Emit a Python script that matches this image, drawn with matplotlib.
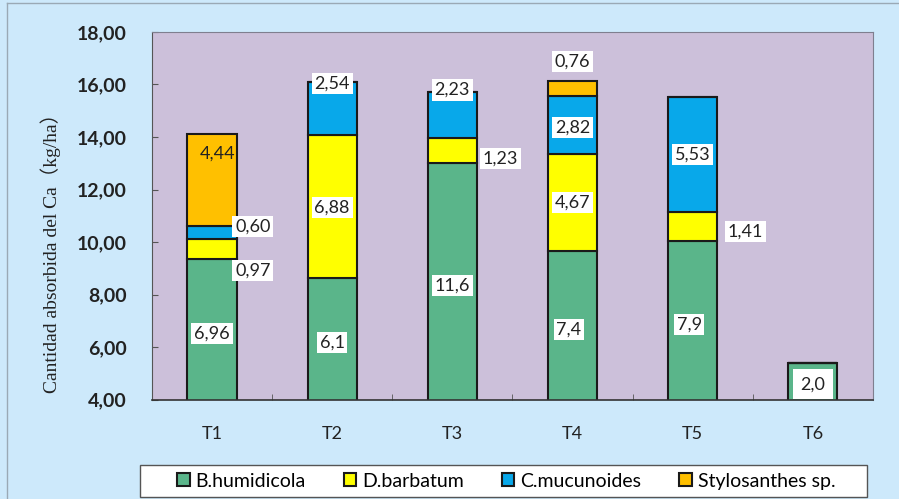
import numpy as np
import matplotlib.pyplot as plt
from matplotlib.patches import Rectangle

treatments = ['T1', 'T2', 'T3', 'T4', 'T5', 'T6']
species = ['B.humidicola', 'D.barbatum', 'C.mucunoides', 'Stylosanthes sp.']

# segment heights as drawn in the chart (the axis is cut at 4)
humidicola = [9.35, 8.65, 13.0, 9.65, 10.04, 5.38]
barbatum = [0.75, 5.43, 0.96, 3.70, 1.11, 0]
mucunoides = [0.50, 2.00, 1.77, 2.23, 4.39, 0]
stylosanthes = [3.50, 0, 0, 0.57, 0, 0]

# values printed on the bars
lab_humidicola = ['6,96', '6,1', '11,6', '7,4', '7,9', '2,0']
lab_barbatum = ['0,97', '6,88', '1,23', '4,67', '1,41', '']
lab_mucunoides = ['0,60', '2,54', '2,23', '2,82', '5,53', '']
lab_stylosanthes = ['4,44', '', '', '0,76', '', '']

series = [humidicola, barbatum, mucunoides, stylosanthes]
labels = [lab_humidicola, lab_barbatum, lab_mucunoides, lab_stylosanthes]
colors = ['#5ab58a', '#ffff00', '#08a8ea', '#ffc000']

# label nudges (dx in categories, dy in data units)
dx = [[0, 0, 0, -0.03, -0.03, 0],
      [0.34, 0, 0.4, 0, 0.44, 0],
      [0.34, 0, 0, 0, 0, 0],
      [0.05, 0, 0, 0, 0, 0]]
dy = [[-0.15, -0.15, -0.15, -0.15, -0.15, -0.1],
      [-0.8, -0.05, -0.3, 0, -0.2, 0],
      [0.25, 0.95, 0.95, -0.1, 0, 0],
      [1.0, 0, 0, 1.0, 0, 0]]

fig = plt.figure(figsize=(8.99, 4.99), dpi=100, facecolor='#cde9fb')
ax = fig.add_axes([0.169, 0.199, 0.802, 0.737])
ax.set_facecolor('#ccc0da')

x = np.arange(len(treatments))
bottom = np.zeros(len(treatments))
for k in range(4):
    vals = np.array(series[k], dtype=float)
    ax.bar(x, vals, 0.41, bottom=bottom, color=colors[k], edgecolor='#1a1a1a',
           linewidth=1.5, label=species[k], zorder=2)
    for i in range(len(x)):
        if labels[k][i] == '':
            continue
        lo = max(bottom[i], 4)
        yc = (lo + bottom[i] + vals[i]) / 2 + dy[k][i]
        box = dict(boxstyle='square,pad=0.15', fc='white', ec='none')
        if k == 3 and i == 0:
            box = None
        if i == 5:
            box = dict(boxstyle='square,pad=0.4', fc='white', ec='none')
        ax.text(i + dx[k][i], yc, labels[k][i], ha='center', va='center',
                fontsize=13, color='#222222', family='Lato', bbox=box, zorder=3)
    bottom += vals

ax.set_xlim(-0.5, 5.5)
ax.set_ylim(4, 18)
ax.set_yticks(np.arange(4, 19, 2))
ax.set_yticklabels(['%d,00' % v for v in range(4, 19, 2)], fontsize=14,
                   family='Lato', fontweight='bold', color='#222222')
ax.set_xticks(x)
ax.set_xticklabels(treatments, fontsize=13, family='Lato', color='#222222')
ax.set_xticks(x[:-1] + 0.5, minor=True)
ax.tick_params(axis='y', direction='in', length=4, pad=18, color='#555555')
ax.tick_params(axis='x', which='major', length=0, pad=19)
ax.tick_params(axis='x', which='minor', direction='in', length=4, color='#555555')

for s in ['top', 'right']:
    ax.spines[s].set_color('#7f7f8f')
ax.spines['left'].set_color('#555555')
ax.spines['bottom'].set_color('#333333')
ax.spines['bottom'].set_linewidth(1.2)

fig.text(0.056, 0.503, 'Cantidad absorbida del Ca\uff08kg/ha\uff09', rotation=90,
         ha='center', va='center', fontsize=14,
         family=['Liberation Serif', 'Noto Sans CJK SC'], color='#222222')

# legend frame is wider than its content in the original
fig.add_artist(Rectangle((0.156, 0.004), 0.808, 0.064, transform=fig.transFigure,
                         fc='white', ec='#555555', lw=1))
leg = fig.legend(loc='center', bbox_to_anchor=(0.563, 0.036), ncol=4,
                 prop={'family': 'Lato', 'size': 14},
                 handlelength=0.65, handleheight=0.65, handletextpad=0.3,
                 columnspacing=1.95, frameon=False)

# thin border of the chart area
fig.add_artist(plt.Line2D([0.008, 1], [0.994, 0.994], color='#9aa9b5', lw=1))
fig.add_artist(plt.Line2D([0.008, 0.008], [0, 0.994], color='#9aa9b5', lw=1))

fig.savefig('out.png', dpi=100, facecolor=fig.get_facecolor())
